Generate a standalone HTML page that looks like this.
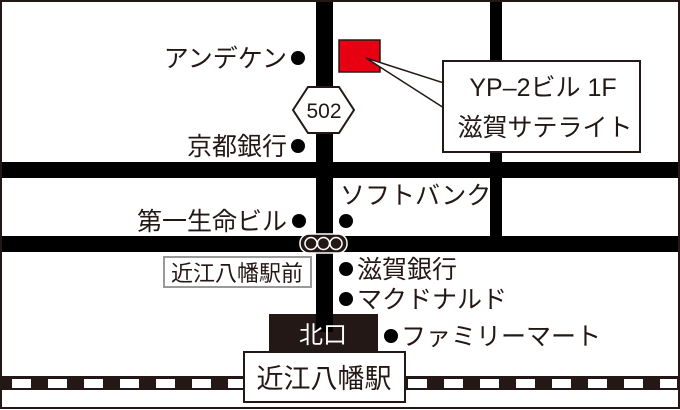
<!DOCTYPE html>
<html><head><meta charset="utf-8"><style>
html,body{margin:0;padding:0;background:#fff}
svg{display:block}
text{font-family:"Liberation Sans","Noto Sans CJK JP",sans-serif;fill:#231815}
</style></head><body>
<svg width="680" height="410" viewBox="0 0 680 410" xmlns="http://www.w3.org/2000/svg">
<rect x="1" y="1" width="678" height="407" fill="#fff" stroke="#231815" stroke-width="2"/>
<rect x="490" y="2" width="12" height="248" fill="#000"/>
<rect x="2" y="162" width="676" height="16" fill="#000"/>
<rect x="2" y="236" width="676" height="16" fill="#000"/>
<rect x="316" y="2" width="17" height="330" fill="#000"/>
<rect x="2" y="376" width="676" height="14" fill="#231815"/>
<g fill="#fff">
<rect x="12" y="379" width="19" height="9"/><rect x="48" y="379" width="19" height="9"/><rect x="84" y="379" width="19" height="9"/><rect x="120" y="379" width="19" height="9"/><rect x="156" y="379" width="19" height="9"/><rect x="192" y="379" width="19" height="9"/><rect x="228" y="379" width="19" height="9"/>
<rect x="408" y="379" width="19" height="9"/><rect x="444" y="379" width="19" height="9"/><rect x="480" y="379" width="19" height="9"/><rect x="516" y="379" width="19" height="9"/><rect x="552" y="379" width="19" height="9"/><rect x="588" y="379" width="19" height="9"/><rect x="624" y="379" width="19" height="9"/><rect x="660" y="379" width="17" height="9"/>
</g>
<rect x="339" y="40" width="41" height="32" fill="#e60012" stroke="#231815" stroke-width="1.5"/>
<polygon points="366,58 444,83 444,108" fill="#fff" stroke="#231815" stroke-width="1.5"/>
<rect x="443" y="61" width="197" height="91" fill="#fff" stroke="#231815" stroke-width="2"/>
<rect x="444" y="84" width="3" height="23" fill="#fff"/>
<text x="543" y="96" font-size="25" text-anchor="middle">YP‒2ビル 1F</text>
<text x="545" y="136" font-size="25" text-anchor="middle">滋賀サテライト</text>
<polygon points="308,87 339,87 354,110 339,133 308,133 293,110" fill="#fff" stroke="#231815" stroke-width="2"/>
<text x="324" y="118" font-size="21" text-anchor="middle">502</text>
<g fill="#000">
<circle cx="298" cy="58" r="7"/><circle cx="298" cy="146" r="7"/>
<circle cx="299" cy="221" r="7"/><circle cx="346" cy="221" r="7"/>
<circle cx="346" cy="269" r="7"/><circle cx="346" cy="299" r="7"/>
<circle cx="391" cy="336" r="7"/>
</g>
<g font-size="25">
<text x="287" y="67" text-anchor="end">アンデケン</text>
<text x="287" y="155" text-anchor="end">京都銀行</text>
<text x="287" y="230" text-anchor="end">第一生命ビル</text>
<text x="340" y="204">ソフトバンク</text>
<text x="357" y="278">滋賀銀行</text>
<text x="357" y="308">マクドナルド</text>
<text x="401" y="345">ファミリーマート</text>
</g>
<rect x="300" y="234" width="47" height="19" rx="9" fill="#231815" stroke="#fff" stroke-width="1.5"/>
<circle cx="311" cy="243.5" r="6" fill="#231815" stroke="#fff" stroke-width="1.5"/>
<circle cx="323.5" cy="243.5" r="6" fill="#231815" stroke="#fff" stroke-width="1.5"/>
<circle cx="336" cy="243.5" r="6" fill="#231815" stroke="#fff" stroke-width="1.5"/>
<rect x="164" y="257" width="147" height="30" fill="#fff" stroke="#999" stroke-width="2"/>
<text x="237" y="281" font-size="22" text-anchor="middle">近江八幡駅前</text>
<rect x="269" y="314" width="109" height="38" fill="#231815"/>
<rect x="316" y="314" width="17" height="18" fill="#000"/>
<text x="323" y="343" font-size="24" text-anchor="middle" style="fill:#fff">北口</text>
<rect x="244" y="352" width="161" height="50" fill="#fff" stroke="#231815" stroke-width="2"/>
<text x="324" y="388" font-size="27" text-anchor="middle">近江八幡駅</text>
</svg>
</body></html>
